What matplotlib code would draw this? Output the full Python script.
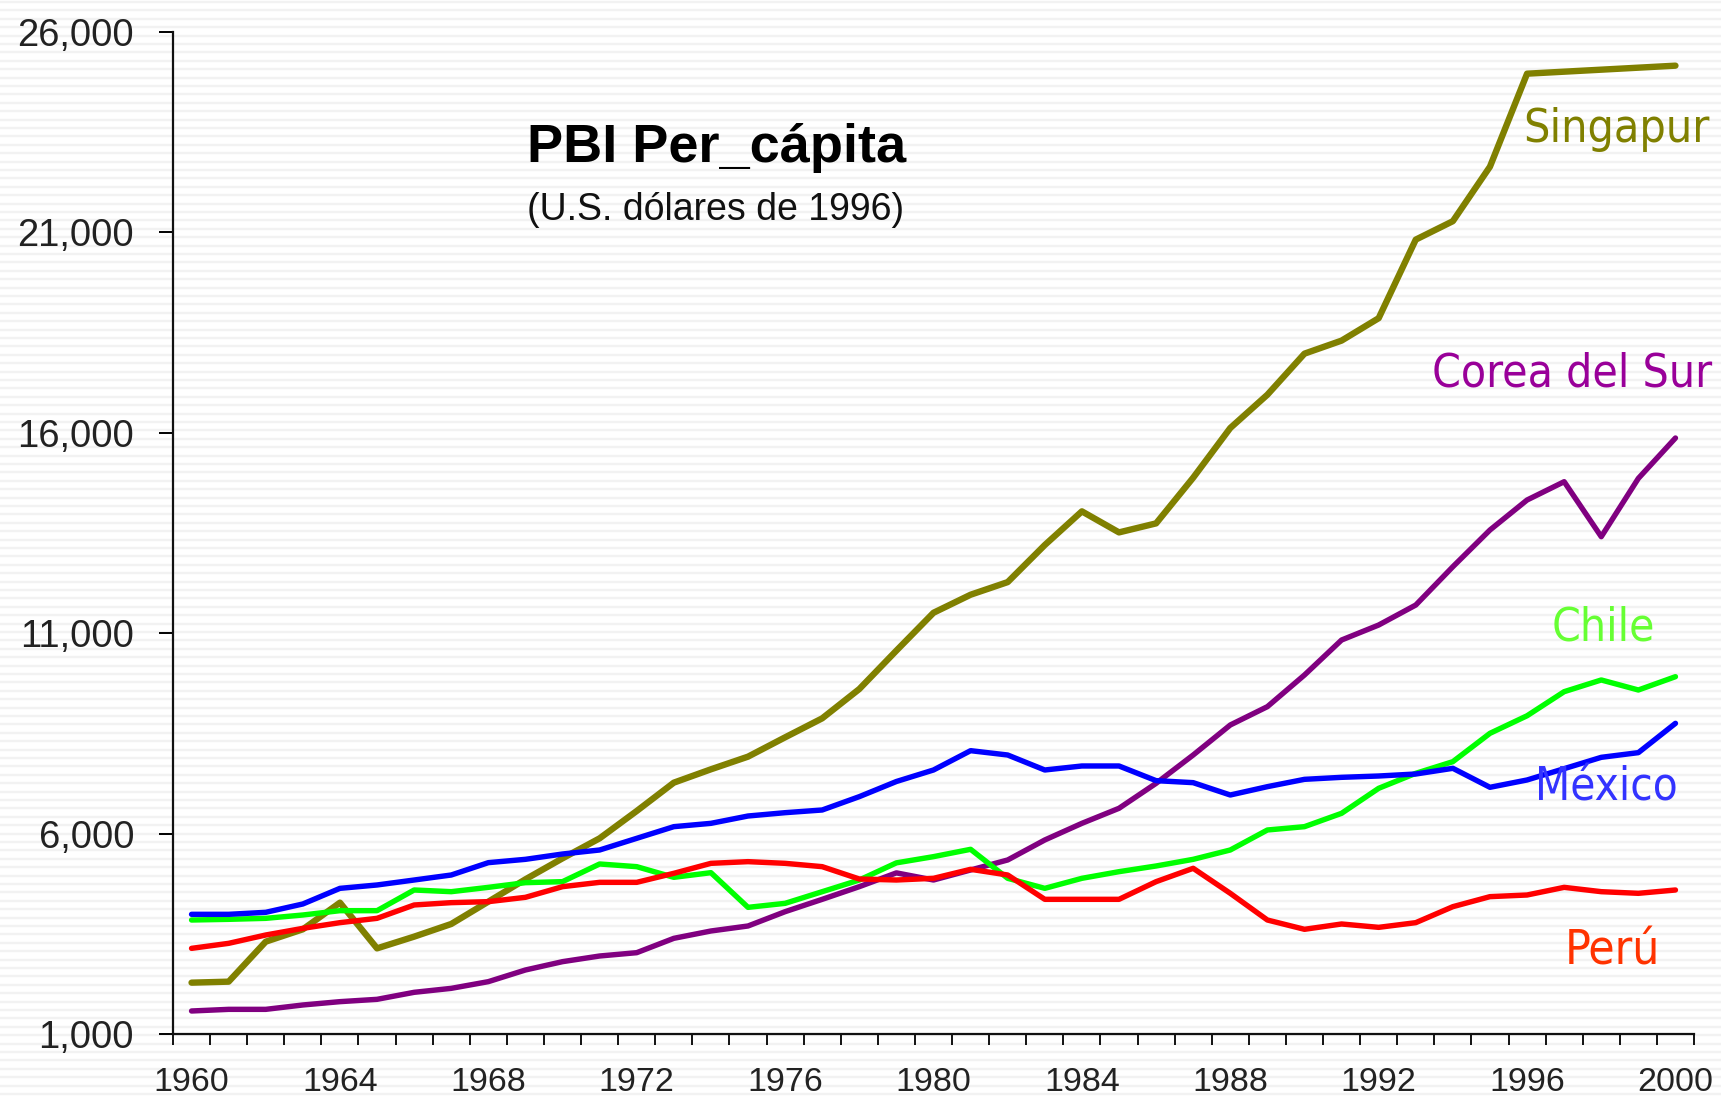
import numpy as np
import matplotlib
matplotlib.use("Agg")
import matplotlib.pyplot as plt
from matplotlib import font_manager
from matplotlib.font_manager import FontProperties
from matplotlib.ticker import FuncFormatter, FixedLocator

years = list(range(1960, 2001))

singapur = [2281, 2306, 3304, 3612, 4277, 3137, 3429, 3745, 4302, 4859,
            5383, 5882, 6564, 7271, 7604, 7920, 8402, 8876, 9607, 10566,
            11510, 11960, 12275, 13200, 14040, 13515, 13740, 14880, 16120, 16950,
            17975, 18300, 18860, 20820, 21280, 22640, 24960, 25010, 25060, 25110, 25160]
corea = [1574, 1615, 1615, 1724, 1807, 1865, 2040, 2139, 2306, 2597,
         2805, 2946, 3029, 3387, 3570, 3695, 4052, 4360, 4676, 5020,
         4842, 5092, 5342, 5841, 6256, 6631, 7254, 7961, 8710, 9167,
         9957, 10830, 11204, 11703, 12659, 13575, 14323, 14780, 13408, 14863, 15870]
chile = [3844, 3861, 3886, 3969, 4077, 4077, 4593, 4551, 4659, 4776,
         4801, 5242, 5175, 4909, 5025, 4160, 4260, 4551, 4842, 5270,
         5425, 5608, 4884, 4634, 4884, 5050, 5192, 5358, 5591, 6090,
         6173, 6506, 7130, 7504, 7795, 8502, 8940, 9541, 9833, 9583, 9915]
mexico = [3986, 3986, 4036, 4244, 4634, 4718, 4842, 4967, 5275, 5358,
          5491, 5591, 5882, 6173, 6256, 6439, 6522, 6589, 6922, 7300,
          7587, 8069, 7961, 7587, 7687, 7687, 7321, 7271, 6963, 7171,
          7354, 7404, 7437, 7487, 7629, 7155, 7338, 7620, 7903, 8020, 8751]
peru = [3137, 3262, 3470, 3636, 3778, 3886, 4219, 4277, 4302, 4410,
        4676, 4784, 4784, 5009, 5258, 5300, 5258, 5175, 4867, 4842,
        4884, 5109, 4967, 4360, 4360, 4360, 4801, 5134, 4510, 3844,
        3612, 3745, 3661, 3778, 4177, 4427, 4468, 4659, 4551, 4510, 4593]

series = [
    ("Singapur", singapur, "#808000", 4.6),
    ("Corea del Sur", corea, "#800080", 3.9),
    ("Chile", chile, "#00ff00", 3.9),
    ("México", mexico, "#0000ff", 3.9),
    ("Perú", peru, "#ff0000", 3.9),
]

# label name, centre x (year), baseline value, colour, wanted width in px
labels = [
    ("Singapur", 1998.42, 23255, "#808000", 170),
    ("Corea del Sur", 1997.21, 17143, "#990099", 255),
    ("Chile", 1998.07, 10830, "#66ff33", 94),
    ("México", 1998.15, 6838, "#3333ff", 130),
    ("Perú", 1998.31, 2722, "#ff3300", 87),
]

yticks = [1000, 6000, 11000, 16000, 21000, 26000]
xtick_labels = list(range(1960, 2001, 4))

plt.rcParams["font.family"] = ["Liberation Sans", "DejaVu Sans"]


def find_narrow():
    fonts = font_manager.fontManager.ttflist
    for f in fonts:
        if f.name == "Liberation Sans Narrow" and f.weight in (400, "normal", "regular") and f.style == "normal":
            return f.fname
    for f in fonts:
        nm = (f.name + " " + f.fname).lower()
        if f.style != "normal":
            continue
        if "bold" in f.fname.lower() or "italic" in f.fname.lower():
            continue
        if "narrow" in nm or "condensed" in nm or f.stretch in ("condensed", "semi-condensed", "extra-condensed"):
            if "mono" in nm or "serif" in nm.replace("sans", ""):
                continue
            return f.fname
    return None


narrow_path = find_narrow()

W, H = 1721, 1101
fig = plt.figure(figsize=(W / 100, H / 100), dpi=100)
fig.patch.set_facecolor("white")

# striped background over the whole picture
bg = fig.add_axes([0, 0, 1, 1], zorder=-10)
bg.set_xlim(0, W)
bg.set_ylim(H, 0)
bg.hlines(np.arange(2, H, 8.4), 0, W, color="#f2f2f2", lw=1.7)
bg.axis("off")

ax = fig.add_axes([173 / W, 1 - 1034 / H, 1521 / W, 1002 / H])
ax.set_facecolor("none")

for name, vals, color, lw in series:
    ax.plot(years, vals, color=color, lw=lw, solid_joinstyle="round", solid_capstyle="round")

renderer = fig.canvas.get_renderer()
for name, x, y, color, width in labels:
    if narrow_path:
        fp = FontProperties(fname=narrow_path, size=36)
    else:
        fp = FontProperties(family="Liberation Sans", size=36)
    t = ax.text(x, y, name, color=color, fontproperties=fp, ha="center", va="baseline")
    w = t.get_window_extent(renderer=renderer).width
    size = 36 * width * 1.1 / w
    if not narrow_path:
        size = min(size, 31)
    t.set_fontsize(size)

ax.set_xlim(1959.5, 2000.5)
ax.set_ylim(1000, 26000)

ax.set_yticks(yticks)
ax.yaxis.set_major_formatter(FuncFormatter(lambda v, p: f"{int(v):,}"))
ax.tick_params(axis="y", direction="out", length=10, width=1.4, pad=18,
               labelsize=27.5, labelcolor="#222222")

ax.set_xticks(xtick_labels)
ax.set_xticklabels([str(y) for y in xtick_labels])
ax.xaxis.set_minor_locator(FixedLocator(np.arange(1959.5, 2001, 1.0)))
ax.tick_params(axis="x", which="major", length=0, pad=24, labelsize=24.5, labelcolor="#222222")
ax.tick_params(axis="x", which="minor", direction="out", length=8, width=1.3)

for s in ["top", "right"]:
    ax.spines[s].set_visible(False)
for s in ["left", "bottom"]:
    ax.spines[s].set_linewidth(1.6)
    ax.spines[s].set_color("#111111")

fig.text(717 / W, 1 - 162 / H, "PBI Per_cápita", ha="center", va="baseline",
         fontsize=39, fontweight="bold", color="black")
fig.text(716 / W, 1 - 220 / H, "(U.S. dólares de 1996)", ha="center", va="baseline",
         fontsize=27, color="#111111")

fig.savefig("out.png", dpi=100)
